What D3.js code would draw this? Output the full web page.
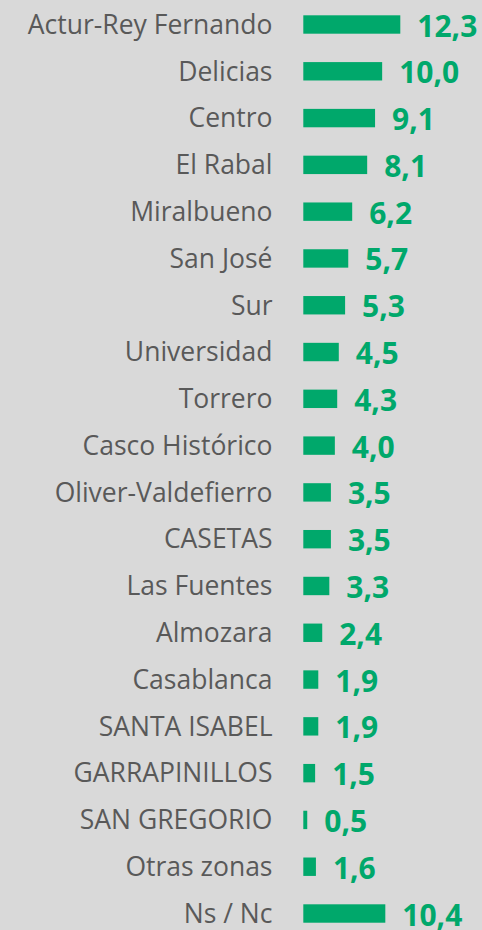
<!DOCTYPE html>
<html><head><meta charset="utf-8">
<script src="https://cdn.jsdelivr.net/npm/d3@7"></script>
<style>html,body{margin:0;padding:0;background:#d9d9d9;}</style>
</head><body>
<script>
const categories = ["Actur-Rey Fernando","Delicias","Centro","El Rabal","Miralbueno","San José","Sur","Universidad","Torrero","Casco Histórico","Oliver-Valdefierro","CASETAS","Las Fuentes","Almozara","Casablanca","SANTA ISABEL","GARRAPINILLOS","SAN GREGORIO","Otras zonas","Ns / Nc"];
const values = [12.3,10.0,9.1,8.1,6.2,5.7,5.3,4.5,4.3,4.0,3.5,3.5,3.3,2.4,1.9,1.9,1.5,0.5,1.6,10.4];
const valueLabels = ["12,3","10,0","9,1","8,1","6,2","5,7","5,3","4,5","4,3","4,0","3,5","3,5","3,3","2,4","1,9","1,9","1,5","0,5","1,6","10,4"];

const W = 482, H = 930;
const svg = d3.select("body").append("svg").attr("width", W).attr("height", H);
svg.append("rect").attr("width", W).attr("height", H).attr("fill", "#d9d9d9");

const x = d3.scaleLinear().domain([0, 12.3]).range([303.3, 400.3]);
const step = 46.79;
const y = d3.scaleBand().domain(d3.range(categories.length))
  .range([24.5 - step / 2, 24.5 - step / 2 + step * categories.length]).padding(0);
const cy = i => y(i) + y.bandwidth() / 2;
const bh = 18.4;

const g = svg.append("g");
g.selectAll("rect.bar").data(values).join("rect").attr("class","bar")
  .attr("x", x(0))
  .attr("y", (d,i) => cy(i) - bh/2)
  .attr("width", d => x(d) - x(0))
  .attr("height", bh)
  .attr("fill", "#00a86b");

g.selectAll("text.cat").data(categories).join("text").attr("class","cat")
  .attr("x", 272.5).attr("y", (d,i) => cy(i))
  .attr("dy", "0.35em")
  .attr("text-anchor", "end")
  .attr("font-family", "'Open Sans', sans-serif")
  .attr("font-size", 26.5)
  .attr("fill", "#595959")
  .text(d => d);

g.selectAll("text.val").data(values).join("text").attr("class","val")
  .attr("x", d => x(d) + 17).attr("y", (d,i) => cy(i) + 1.5)
  .attr("dy", "0.35em")
  .attr("font-family", "'Open Sans', sans-serif")
  .attr("font-weight", "bold")
  .attr("font-size", 30)
  .attr("fill", "#00a86b")
  .text((d,i) => valueLabels[i]);
</script>
</body></html>
